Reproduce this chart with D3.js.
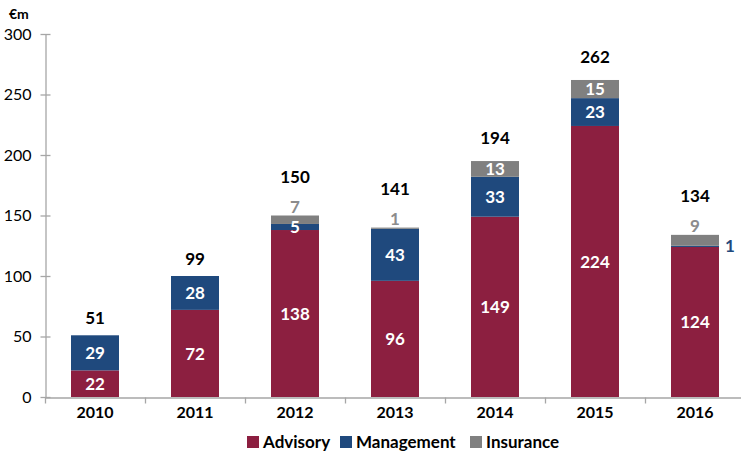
<!DOCTYPE html>
<html lang="en">
<head>
<meta charset="utf-8">
<script src="https://cdn.jsdelivr.net/npm/d3@7"></script>
<style>
    body { margin: 0; background: #fff; }
    text { font-family: Lato, "Open Sans", sans-serif; }
    .axis path, .axis line { fill: none; stroke: #A6A6A6; stroke-width: 1.3px; }
</style>
</head>
<body>
<script>
const years = ["2010", "2011", "2012", "2013", "2014", "2015", "2016"];
const advisory = [22, 72, 138, 96, 149, 224, 124];
const management = [29, 28, 5, 43, 33, 23, 1];
const insurance = [0, 0, 7, 1, 13, 15, 9];
const totals = [51, 99, 150, 141, 194, 262, 134];
const yTicks = [0, 50, 100, 150, 200, 250, 300];
const seriesNames = ["Advisory", "Management", "Insurance"];
const colors = ["#8C1F40", "#1F497D", "#808080"];

let w = 741;
let h = 453;

let svg = d3.select("body")
            .append("svg")
            .attr("width", w)
            .attr("height", h);

let xScale = d3.scaleBand()
                .domain(years)
                .range([45, 745])
                .paddingInner(0.52)
                .paddingOuter(0.26);

let yScale = d3.scaleLinear()
                .domain([0, 300])
                .range([397, 34]);

let rows = years.map((y, i) => ({
    year: y, Advisory: advisory[i], Management: management[i], Insurance: insurance[i], total: totals[i]
}));

let stacked = d3.stack().keys(seriesNames)(rows);

// axes
let yAxis = d3.axisLeft(yScale).tickValues(yTicks).tickSizeInner(0).tickSizeOuter(0).tickPadding(14);
let gy = svg.append("g")
    .attr("class", "axis")
    .attr("transform", "translate(45.5, 0)")
    .call(yAxis);
gy.selectAll(".tick line").attr("x1", -5).attr("x2", 5);
gy.selectAll("text")
    .attr("font-size", "16px")
    .attr("fill", "#000")
    .style("font-family", "Lato, sans-serif");

let xAxis = d3.axisBottom(xScale).tickSize(0).tickSizeOuter(0).tickPadding(9);
let gx = svg.append("g")
    .attr("class", "axis")
    .attr("transform", "translate(0, 397.5)")
    .call(xAxis);
gx.selectAll("text")
    .attr("font-size", "16px")
    .attr("font-weight", "bold")
    .attr("fill", "#000")
    .style("font-family", "Lato, sans-serif");
// category separators on the x axis
gx.selectAll(".sep")
    .data(years.concat(["end"]))
    .enter()
    .append("line")
    .attr("x1", (d, i) => 45.5 + i * xScale.step())
    .attr("x2", (d, i) => 45.5 + i * xScale.step())
    .attr("y1", 0)
    .attr("y2", 6)
    .attr("stroke", "#A6A6A6")
    .attr("stroke-width", 1.3);

// bars
stacked.forEach((layer, li) => {
    svg.append("g")
        .selectAll("rect")
        .data(layer)
        .enter()
        .append("rect")
        .attr("x", (d) => xScale(d.data.year))
        .attr("y", (d) => yScale(d[1]))
        .attr("width", xScale.bandwidth())
        .attr("height", (d) => yScale(d[0]) - yScale(d[1]))
        .attr("fill", colors[li]);
});

// segment labels
stacked.forEach((layer, li) => {
    let name = seriesNames[li];
    layer.forEach((d) => {
        let v = d.data[name];
        if (!v) return;
        let cx = xScale(d.data.year) + xScale.bandwidth() / 2;
        let cy = (yScale(d[0]) + yScale(d[1])) / 2;
        let fill = "#fff";
        let anchor = "middle";
        if (name === "Insurance" && v < 10) {
            cy = yScale(d[1]) - 9;
            fill = "#8C8C8C";
        } else if (name === "Management" && v < 3) {
            cx = xScale(d.data.year) + xScale.bandwidth() + 6;
            anchor = "start";
            fill = colors[1];
        }
        svg.append("text")
            .attr("x", cx)
            .attr("y", cy)
            .attr("dy", "0.36em")
            .attr("text-anchor", anchor)
            .attr("font-size", "17px")
            .attr("font-weight", "bold")
            .attr("fill", fill)
            .text(v);
    });
});

// totals
rows.forEach((d, i) => {
    let top = yScale(stacked[2][i][1]);
    let gap = 17 + (d.Insurance > 0 ? 6 : 0) + (d.Insurance > 0 && d.Insurance < 10 ? 16 : 0);
    svg.append("text")
        .attr("x", xScale(d.year) + xScale.bandwidth() / 2)
        .attr("y", top - gap)
        .attr("dy", "0.36em")
        .attr("text-anchor", "middle")
        .attr("font-size", "17px")
        .attr("font-weight", "bold")
        .attr("fill", "#000")
        .text(d.total);
});

// unit
svg.append("text")
    .attr("x", 9)
    .attr("y", 19)
    .attr("font-size", "14px")
    .attr("font-weight", "bold")
    .text("€m");

// legend
let legendX = [247, 340, 470];
let legend = svg.append("g");
seriesNames.forEach((name, i) => {
    legend.append("rect")
        .attr("x", legendX[i])
        .attr("y", 436)
        .attr("width", 12)
        .attr("height", 12)
        .attr("fill", colors[i]);
    legend.append("text")
        .attr("x", legendX[i] + 16)
        .attr("y", 442)
        .attr("dy", "0.36em")
        .attr("font-size", "17px")
        .attr("font-weight", "bold")
        .attr("fill", "#000")
        .text(name);
});
</script>
</body>
</html>
